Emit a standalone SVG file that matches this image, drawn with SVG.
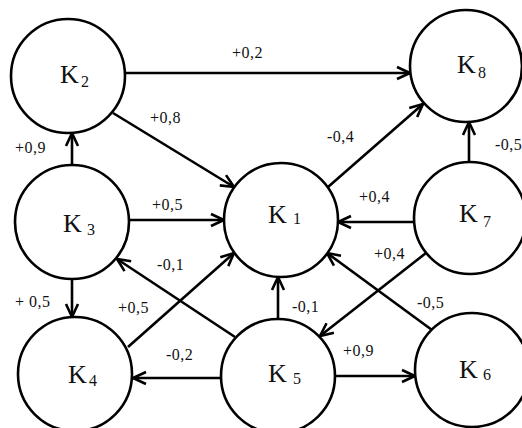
<svg xmlns="http://www.w3.org/2000/svg" width="522" height="428" viewBox="0 0 522 428">
<style>
.node{fill:#fff;stroke:#000;stroke-width:2.6}
.k{font-family:"Liberation Serif",serif;font-size:26px;fill:#111}
.s{font-family:"Liberation Serif",serif;font-size:16px;fill:#111}
.lbl{font-family:"Liberation Serif",serif;font-size:16px;letter-spacing:0.5px;fill:#111}
.e{stroke:#000;stroke-width:2.6;fill:none;marker-end:url(#arr)}
</style>
<defs>
<marker id="arr" markerUnits="userSpaceOnUse" markerWidth="16" markerHeight="16" refX="14" refY="7" orient="auto" overflow="visible">
<path d="M1,1 L14,7 L1,13" fill="none" stroke="#000" stroke-width="2.6"/>
</marker>
</defs>
<rect width="522" height="428" fill="#fff"/>
<g id="connectors">
<line class="e" x1="126" y1="73" x2="410" y2="73"/>
<line class="e" x1="113" y1="113" x2="234" y2="187"/>
<line class="e" x1="72" y1="165" x2="72" y2="133"/>
<line class="e" x1="129" y1="220" x2="224" y2="220"/>
<line class="e" x1="72" y1="279" x2="72" y2="317"/>
<line class="e" x1="235" y1="337" x2="117" y2="259"/>
<line class="e" x1="128" y1="347" x2="234" y2="253"/>
<line class="e" x1="221" y1="378" x2="133" y2="378"/>
<line class="e" x1="278" y1="319" x2="278" y2="277"/>
<line class="e" x1="335" y1="376" x2="415" y2="376"/>
<line class="e" x1="432" y1="330" x2="327" y2="253"/>
<line class="e" x1="414" y1="222" x2="338" y2="222"/>
<line class="e" x1="426" y1="253" x2="320" y2="336"/>
<line class="e" x1="328" y1="187" x2="423" y2="104"/>
<line class="e" x1="469" y1="162" x2="469" y2="122"/>
<text class="lbl" x="232" y="58">+0,2</text>
<text class="lbl" x="150" y="123">+0,8</text>
<text class="lbl" x="15" y="153">+0,9</text>
<text class="lbl" x="327" y="142">-0,4</text>
<text class="lbl" x="495" y="150">-0,5</text>
<text class="lbl" x="152" y="210">+0,5</text>
<text class="lbl" x="157" y="270">-0,1</text>
<text class="lbl" x="359" y="202">+0,4</text>
<text class="lbl" x="374" y="259">+0,4</text>
<text class="lbl" x="15" y="307">+ 0,5</text>
<text class="lbl" x="118" y="313">+0,5</text>
<text class="lbl" x="166" y="360">-0,2</text>
<text class="lbl" x="292" y="312">-0,1</text>
<text class="lbl" x="417" y="308">-0,5</text>
<text class="lbl" x="343" y="356">+0,9</text>
</g>
<g id="K2"><circle class="node" cx="68" cy="76" r="57"/><text class="k" x="60" y="83">K</text><text class="s" x="81" y="87">2</text></g>
<g id="K8"><circle class="node" cx="466" cy="66" r="56"/><text class="k" x="457" y="73">K</text><text class="s" x="478" y="78">8</text></g>
<g id="K3"><circle class="node" cx="72" cy="222" r="57"/><text class="k" x="63" y="232">K</text><text class="s" x="87" y="235">3</text></g>
<g id="K1"><circle class="node" cx="281" cy="220" r="57"/><text class="k" x="268" y="223">K</text><text class="s" x="293" y="224">1</text></g>
<g id="K7"><circle class="node" cx="470" cy="218" r="56"/><text class="k" x="459" y="222">K</text><text class="s" x="483" y="227">7</text></g>
<g id="K4"><circle class="node" cx="75" cy="374" r="57"/><text class="k" x="68" y="383">K</text><text class="s" x="89" y="386">4</text></g>
<g id="K5"><circle class="node" cx="278" cy="376" r="57"/><text class="k" x="268" y="382">K</text><text class="s" x="293" y="384">5</text></g>
<g id="K6"><circle class="node" cx="472" cy="370" r="57"/><text class="k" x="459" y="378">K</text><text class="s" x="483" y="380">6</text></g>
</svg>
